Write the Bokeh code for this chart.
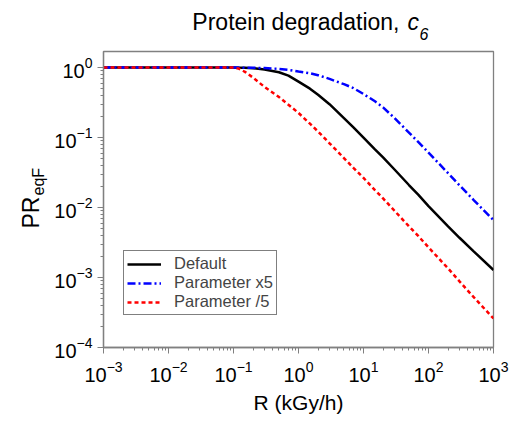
from bokeh.plotting import figure
from bokeh.models import Range1d, Legend, LegendItem, LogTicker
from bokeh.layouts import column, row
from bokeh.core.properties import value
from bokeh.embed import file_html
from bokeh.resources import INLINE
import math

# ---- data ----
R = [1e-3, 1e-2, 0.1, 0.12, 0.15, 0.2, 0.3, 0.5, 0.7, 1, 1.5, 2, 3, 5, 7,
     10, 15, 20, 30, 50, 70, 100, 200, 300, 500, 1000]
default = [1.0, 1.0, 1.0, 0.998, 0.993, 0.98, 0.94, 0.86, 0.77, 0.63, 0.50, 0.41,
           0.30, 0.19, 0.14, 0.10, 0.068, 0.052, 0.035, 0.021, 0.0152, 0.0105,
           0.0054, 0.0037, 0.00235, 0.00128]
param_x5 = [1.0, 1.0, 1.0, 1.0, 0.998, 0.995, 0.985, 0.96, 0.93, 0.88, 0.83, 0.78,
            0.69, 0.58, 0.51, 0.42, 0.33, 0.27, 0.19, 0.118, 0.086, 0.061,
            0.031, 0.0208, 0.0127, 0.0066]
param_d5 = [1.0, 1.0, 1.0, 0.97, 0.87, 0.72, 0.53, 0.38, 0.295, 0.225, 0.158, 0.122,
            0.083, 0.051, 0.037, 0.0265, 0.0178, 0.0135, 0.009, 0.0054, 0.0039,
            0.0027, 0.00135, 0.00088, 0.00052, 0.00026]
labels = ["Default", "Parameter x5", "Parameter /5"]
title_text = ["Protein degradation,", "c", "6"]
ylabel_text = ["PR", "eqF"]
x_range = (1e-3, 1e3)
y_range = (1e-4, 1.7)

FONT = "Liberation Sans"
W, H = 526, 423
TOP_H = 46          # height of the title strip
LEFT_W = 50         # width of the y-label strip
FL, FR, FT, FB = 103, 493, 51, 347   # frame left / right / top / bottom (canvas px)


def blank_fig(w, h, xr, yr):
    f = figure(width=w, height=h, x_range=Range1d(*xr), y_range=Range1d(*yr),
               output_backend="svg", toolbar_location=None,
               x_axis_location=None, y_axis_location=None,
               min_border=0, min_border_left=0, min_border_right=0,
               min_border_top=0, min_border_bottom=0)
    f.outline_line_color = None
    f.background_fill_color = "white"
    f.border_fill_color = "white"
    f.grid.visible = False
    return f


def put_text(f, x, y, txt, size, style="normal", angle=0.0):
    f.text(x=[x], y=[y], text=[txt], angle=angle, text_align="left",
           text_baseline="bottom", text_font=value(FONT),
           text_font_size=value(size), text_font_style=style, text_color="black")


# ---- y-label strip, full height (canvas coordinates, y downwards) ----
lf = blank_fig(LEFT_W, H, (0, LEFT_W), (H, 0))
put_text(lf, 43, 228, ylabel_text[0], "23px", angle=math.pi / 2)
put_text(lf, 46, 195, ylabel_text[1], "16px", angle=math.pi / 2)

# ---- title strip: its frame is aligned with the main frame horizontally ----
tf = blank_fig(W - LEFT_W, TOP_H, (FL, FR), (TOP_H, 0))
tf.text(x=[399], y=[34], text=[title_text[0]], text_align="right",
        text_baseline="bottom", text_font=value(FONT),
        text_font_size=value("23px"), text_color="black")
put_text(tf, 407, 34, title_text[1], "23px", style="italic")
put_text(tf, 419, 39, title_text[2], "16px", style="italic")

# ---- main plot ----
p = figure(width=W - LEFT_W, height=H - TOP_H, x_axis_type="log", y_axis_type="log",
           x_range=Range1d(*x_range), y_range=Range1d(*y_range),
           output_backend="svg", toolbar_location=None,
           min_border_left=FL - LEFT_W, min_border_right=W - FR,
           min_border_top=FT - TOP_H, min_border_bottom=H - FB)
p.background_fill_color = "white"
p.border_fill_color = "white"
p.outline_line_color = "#808080"
p.outline_line_width = 1.3
p.xgrid.visible = False
p.ygrid.visible = False

for ax in (p.xaxis[0], p.yaxis[0]):
    ax.axis_line_color = "#808080"
    ax.axis_line_width = 1.3
    ax.major_tick_line_color = "#808080"
    ax.minor_tick_line_color = "#808080"
    ax.major_tick_in = 0
    ax.major_tick_out = 6
    ax.minor_tick_in = 0
    ax.minor_tick_out = 3
    ax.major_label_text_font = FONT
    ax.major_label_text_font_size = "20px"
    ax.major_label_text_color = "black"
    ax.ticker = LogTicker(mantissas=[1], desired_num_ticks=7, num_minor_ticks=10)

p.xaxis[0].major_label_standoff = 7
p.yaxis[0].major_label_standoff = 5

p.xaxis[0].axis_label = "R (kGy/h)"
p.xaxis[0].axis_label_text_font = FONT
p.xaxis[0].axis_label_text_font_size = "21px"
p.xaxis[0].axis_label_text_font_style = "normal"
p.xaxis[0].axis_label_text_color = "black"
p.xaxis[0].axis_label_standoff = 6

l1 = p.line(R, default, line_color="black", line_width=2.5)
l2 = p.line(R, param_x5, line_color="#0000ff", line_width=2.5, line_dash="8 3 2 3")
l3 = p.line(R, param_d5, line_color="#ff0000", line_width=2.5, line_dash="4 3")

legend = Legend(items=[LegendItem(label=labels[0], renderers=[l1]),
                       LegendItem(label=labels[1], renderers=[l2]),
                       LegendItem(label=labels[2], renderers=[l3])],
                location=(20, 32), orientation="vertical")
legend.label_text_font = FONT
legend.label_text_font_size = "16.5px"
legend.border_line_color = "black"
legend.border_line_width = 1
legend.background_fill_alpha = 1
legend.glyph_width = 34
legend.glyph_height = 16
legend.label_height = 16
legend.label_standoff = 13
legend.spacing = 0
legend.padding = 3
legend.margin = 0
p.add_layout(legend, "center")

layout = row(lf, column(tf, p, spacing=0), spacing=0)

open("out.html", "w").write(file_html(layout, INLINE))
